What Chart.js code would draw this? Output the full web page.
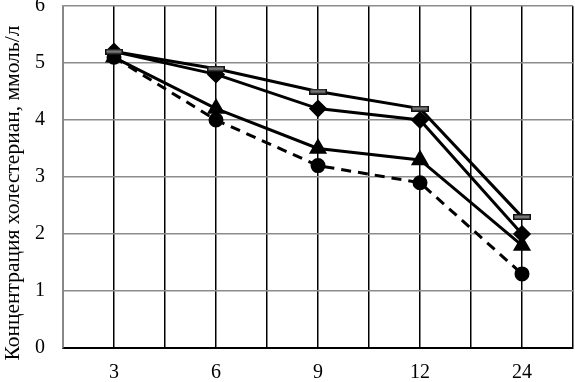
<!DOCTYPE html>
<html>
<head>
<meta charset="utf-8">
<script src="https://cdn.jsdelivr.net/npm/chart.js@4/dist/chart.umd.min.js"></script>
<style>
  html, body { margin: 0; padding: 0; background: #fff; }
  #wrap { width: 575px; height: 382px; }
</style>
</head>
<body>
<div id="wrap"><canvas id="chart"></canvas></div>
<script>
// x categories (hours)
const categories = ['3', '6', '9', '12', '24'];
// series values, ммоль/л
const seriesDash = [5.2, 4.9, 4.5, 4.2, 2.3];
const seriesDiamond = [5.2, 4.8, 4.2, 4.0, 2.0];
const seriesTriangle = [5.1, 4.2, 3.5, 3.3, 1.8];
const seriesCircle = [5.1, 4.0, 3.2, 2.9, 1.3];
const yTicks = [0, 1, 2, 3, 4, 5, 6];
const yTitle = 'Концентрация холестериан, ммоль/л';

const FONT = "'Liberation Serif', 'Times New Roman', serif";

// dash marker: grey bar with dark outline
function makeDash() {
  const c = document.createElement('canvas');
  c.width = 18; c.height = 6;
  const g = c.getContext('2d');
  g.fillStyle = '#111';
  g.fillRect(0, 0, 18, 6);
  g.fillStyle = '#777';
  g.fillRect(1.5, 1.5, 15, 3);
  return c;
}

function toPoints(arr) {
  return arr.map((v, i) => ({ x: i, y: v }));
}

const lineBase = {
  borderColor: '#000',
  backgroundColor: '#000',
  borderWidth: 3,
  fill: false,
  tension: 0,
};

const ctx = document.getElementById('chart');
new Chart(ctx, {
  type: 'line',
  data: {
    datasets: [
      { ...lineBase, label: 'a', data: toPoints(seriesDash), pointStyle: makeDash(), pointRadius: 9 },
      { ...lineBase, label: 'b', data: toPoints(seriesDiamond), pointStyle: 'rectRot', pointRadius: 7 },
      { ...lineBase, label: 'c', data: toPoints(seriesTriangle), pointStyle: 'triangle', pointRadius: 7.5 },
      { ...lineBase, label: 'd', data: toPoints(seriesCircle), pointStyle: 'circle', pointRadius: 6, borderDash: [10, 7] },
    ],
  },
  options: {
    responsive: true,
    maintainAspectRatio: false,
    animation: false,
    layout: { autoPadding: false, padding: { left: 0, top: 6, right: 2, bottom: 0 } },
    plugins: {
      legend: { display: false },
      tooltip: { enabled: false },
    },
    scales: {
      x: {
        type: 'linear',
        min: -0.5,
        max: categories.length - 0.5,
        afterBuildTicks: (scale) => {
          const t = [];
          for (let v = -0.5; v <= categories.length - 0.5 + 1e-9; v += 0.5) t.push({ value: v });
          scale.ticks = t;
        },
        afterFit: (scale) => {
          scale.height = 34;
          scale.paddingLeft = 0;
          scale.paddingRight = 0;
        },
        ticks: {
          autoSkip: false,
          maxRotation: 0,
          padding: 13,
          color: '#000',
          font: { family: FONT, size: 20 },
          callback: (v) => (Number.isInteger(v) ? categories[v] : ''),
        },
        grid: { color: '#000', lineWidth: 1.5, drawTicks: false },
        border: { color: '#000', width: 2 },
      },
      y: {
        min: 0,
        max: 6,
        afterBuildTicks: (scale) => { scale.ticks = yTicks.map((v) => ({ value: v })); },
        afterFit: (scale) => {
          scale.width = 63;
          scale.paddingTop = 0;
          scale.paddingBottom = 0;
        },
        ticks: {
          padding: 18,
          color: '#000',
          font: { family: FONT, size: 20 },
        },
        grid: { color: '#8c8c8c', lineWidth: 1.5, drawTicks: false },
        border: { color: '#8c8c8c', width: 1.5 },
        title: {
          display: true,
          // trailing spaces push the rotated title a bit lower, like the original
          text: yTitle + '\u00a0'.repeat(6),
          color: '#000',
          font: { family: FONT, size: 21.5 },
          padding: { top: 0, bottom: 0 },
        },
      },
    },
  },
});
</script>
</body>
</html>
